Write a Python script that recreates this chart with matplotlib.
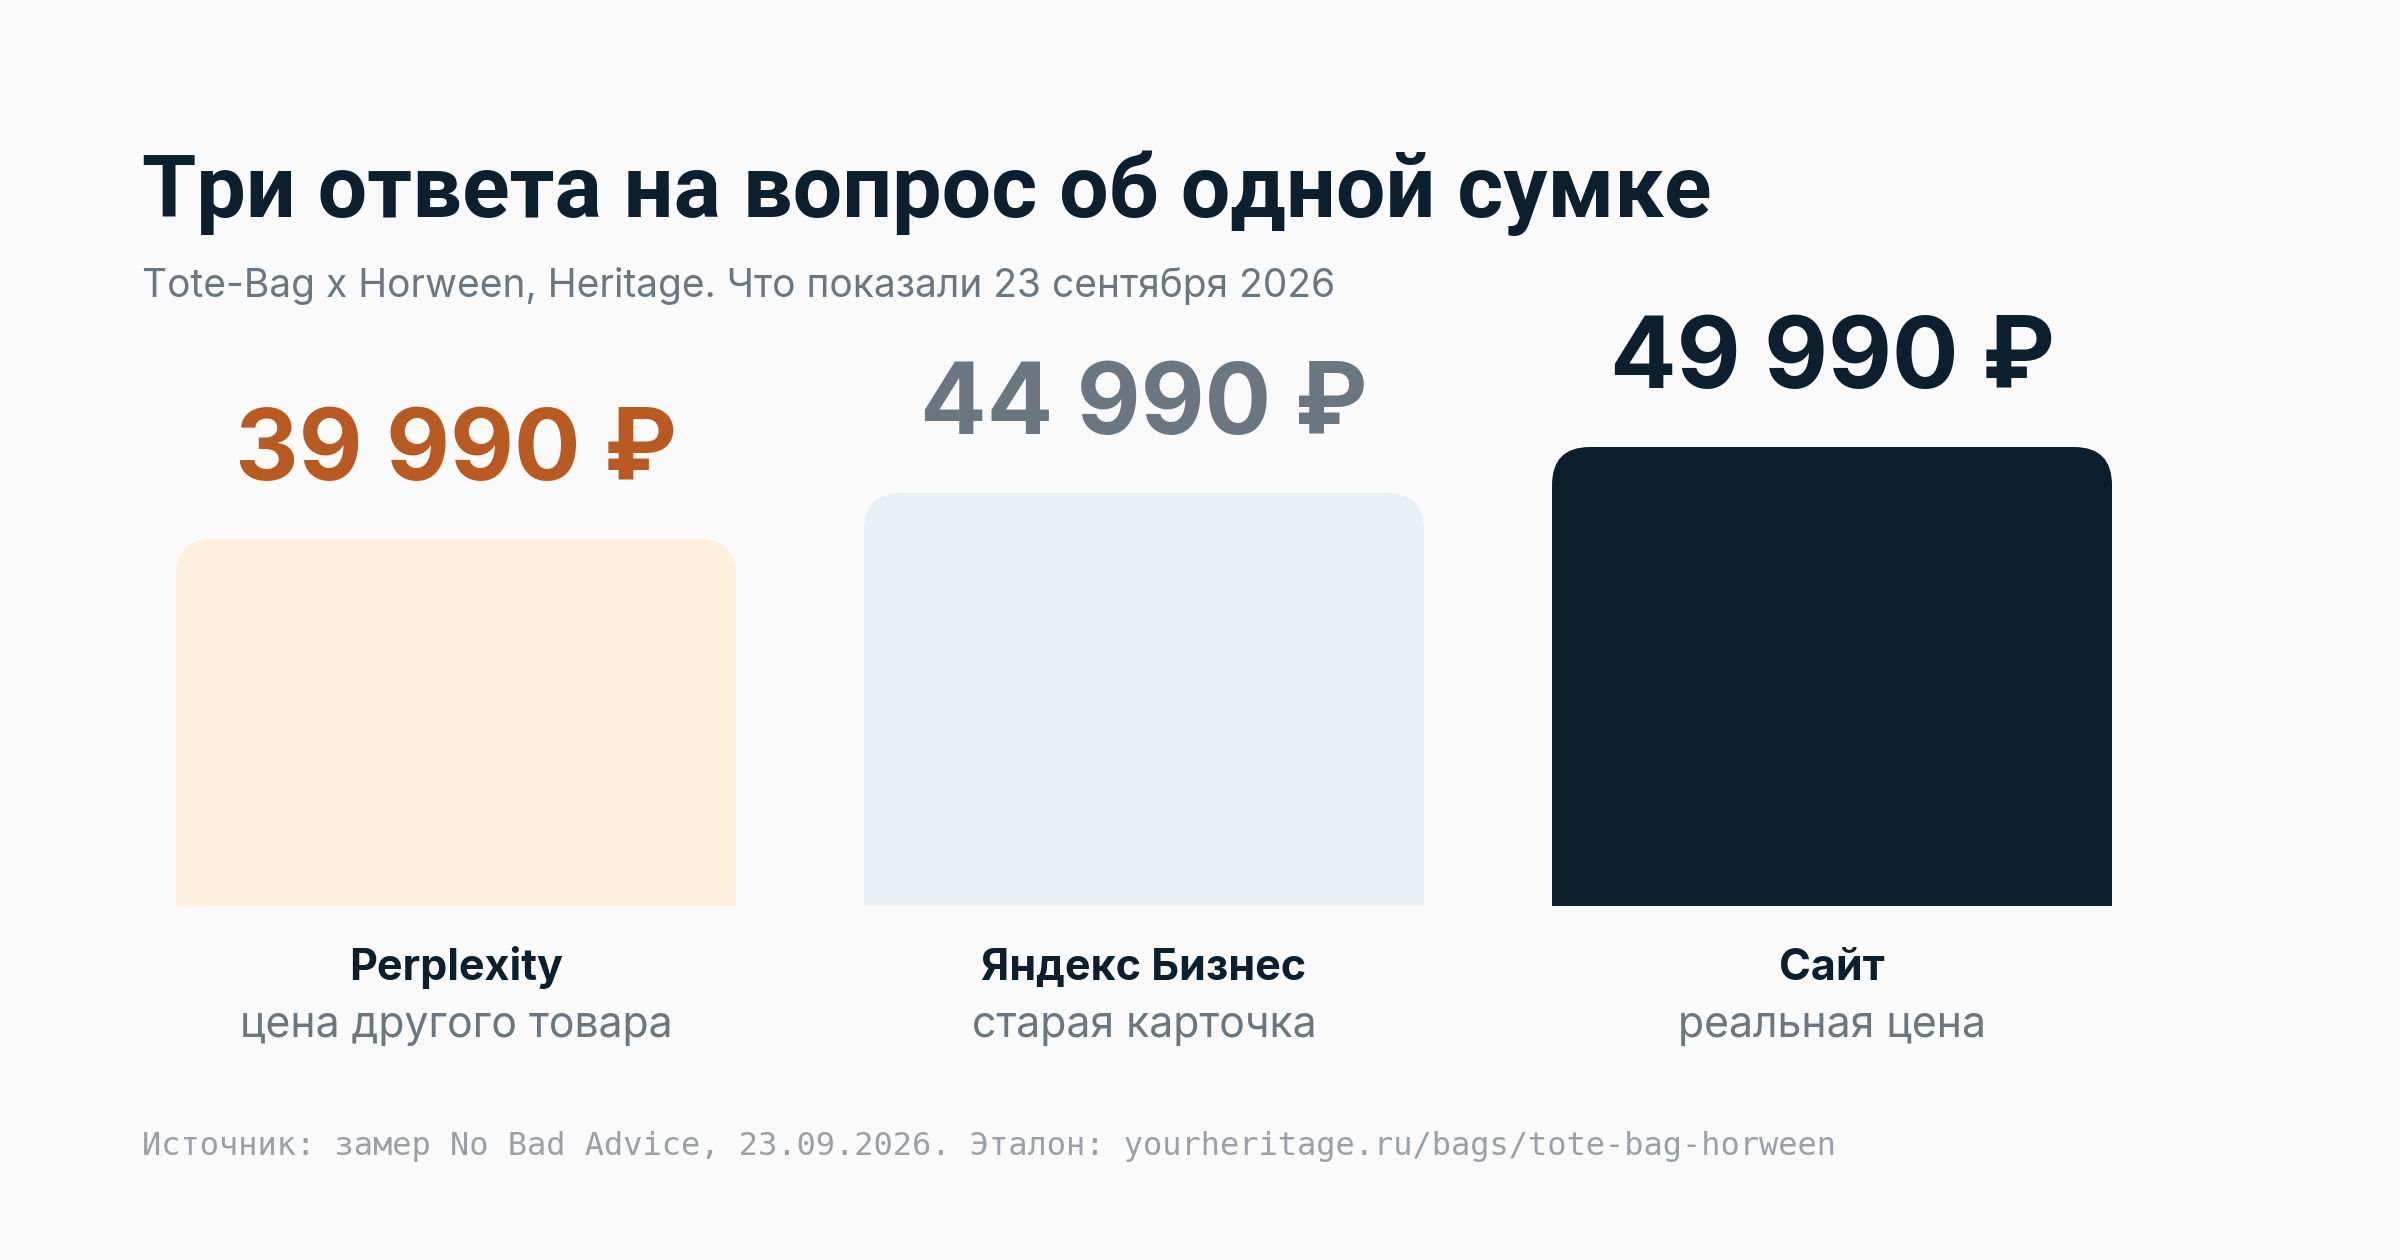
import matplotlib
matplotlib.use("Agg")
import matplotlib.pyplot as plt
from matplotlib.patches import FancyBboxPatch

# data
sources = ["Perplexity", "Яндекс Бизнес", "Сайт"]
notes = ["цена другого товара", "старая карточка", "реальная цена"]
prices = [39990, 44990, 49990]
price_labels = ["39 990 ₽", "44 990 ₽", "49 990 ₽"]

bar_colors = ["#ffefdc", "#e8f0f3", "#0b1f2e"]
label_colors = ["#b85a22", "#6b7780", "#0b1f2e"]
dark = "#0b1f2e"
grey = "#6b7780"
bg = "#fafafa"

W, H = 2400, 1260
DPI = 200
fig = plt.figure(figsize=(W / DPI, H / DPI), dpi=DPI, facecolor=bg)


def fx(px):
    return px / W


def fy(py):
    return 1 - py / H


# bar axes: baseline at y=906px, 49990 -> 459px tall
ax_top, ax_bottom = 300, 906
ax_h = ax_bottom - ax_top
ax = fig.add_axes([0, fy(ax_bottom), 1, ax_h / H])
ax.set_facecolor("none")
spacing = 688
c0 = 456
ax.set_xlim(-c0 / spacing, (W - c0) / spacing)
ax.set_ylim(0, max(prices) * ax_h / 459)
ax.axis("off")

width = 560 / spacing
radius_px = 38
rx = radius_px / spacing
ry = radius_px * max(prices) / 459
aspect = ry / rx

for i, (p, col) in enumerate(zip(prices, bar_colors)):
    # rounded top part + square bottom
    ax.add_patch(FancyBboxPatch((i - width / 2, 0), width, p,
                                boxstyle=f"round,pad=0,rounding_size={rx}",
                                mutation_aspect=aspect, fc=col, ec="none"))
    ax.bar(i, p - ry, width=width, color=col, edgecolor="none")
    ax.annotate(price_labels[i], (i, p), xytext=(0, 59 * 72 / DPI),
                textcoords="offset points", ha="center", va="baseline",
                fontsize=35.5, fontweight="bold", family="Inter",
                color=label_colors[i])
    ax.annotate(sources[i], (i, 0), xytext=(0, -(980 - 906) * 72 / DPI),
                textcoords="offset points", ha="center", va="baseline",
                fontsize=15.5, fontweight="bold", family="Inter", color=dark)
    ax.annotate(notes[i], (i, 0), xytext=(0, -(1037 - 906) * 72 / DPI),
                textcoords="offset points", ha="center", va="baseline",
                fontsize=15.4, family="Inter", color=grey)

fig.text(fx(142), fy(217), "Три ответа на вопрос об одной сумке",
         fontsize=31.7, fontweight="bold", family="Roboto", color=dark,
         va="baseline", ha="left")
fig.text(fx(142), fy(297), "Tote-Bag x Horween, Heritage. Что показали 23 сентября 2026",
         fontsize=14.0, family="Inter", color=grey, va="baseline", ha="left")
fig.text(fx(142), fy(1155),
         "Источник: замер No Bad Advice, 23.09.2026. Эталон: yourheritage.ru/bags/tote-bag-horween",
         fontsize=11.5, family="DejaVu Sans Mono", color="#9aa0a6",
         va="baseline", ha="left")

fig.savefig("out.png", dpi=DPI, facecolor=bg)
